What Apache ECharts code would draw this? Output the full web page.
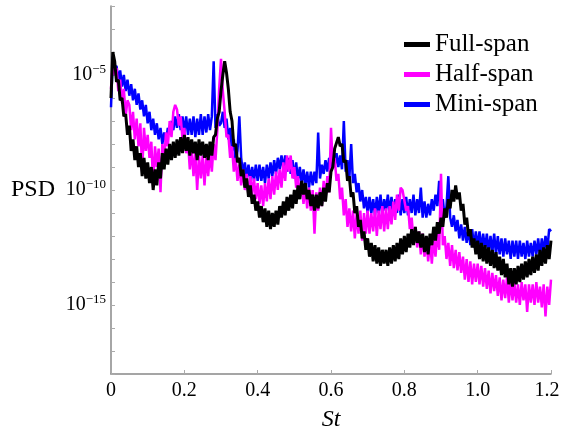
<!DOCTYPE html>
<html>
<head>
<meta charset="utf-8">
<script src="https://cdn.jsdelivr.net/npm/echarts@6/dist/echarts.min.js"></script>
<style>
  html, body { margin: 0; padding: 0; background: #fff; }
  #chart { width: 561px; height: 429px; }
</style>
</head>
<body>
<div id="chart"></div>
<script>
var stStep = 0.005;

var seriesNames = ['Full-span', 'Half-span', 'Mini-span'];
var xTickLabels = ['0', '0.2', '0.4', '0.6', '0.8', '1.0', '1.2'];

var fullSpan = [
    -6.0, -4.0, -4.4, -5.3, -5.2, -6.1, -6.0, -6.8, -6.7, -7.6,
    -7.2, -8.3, -7.8, -8.7, -8.1, -9.0, -8.4, -9.4, -8.6, -9.5,
    -8.8, -9.7, -9.0, -10.0, -9.1, -9.8, -8.8, -9.5, -8.4, -9.1,
    -8.2, -8.9, -8.0, -8.7, -7.9, -8.6, -7.8, -8.5, -7.7, -8.4,
    -7.6, -8.3, -7.7, -8.5, -7.8, -8.4, -7.9, -8.7, -7.8, -8.5,
    -7.9, -8.6, -8.0, -8.7, -7.9, -8.5, -7.7, -7.6, -6.9, -6.6,
    -5.7, -5.0, -4.4, -4.9, -5.6, -6.6, -7.0, -8.1, -8.0, -8.8,
    -8.6, -9.4, -9.1, -9.9, -9.5, -10.3, -9.8, -10.6, -10.2, -10.9,
    -10.5, -11.2, -10.7, -11.4, -10.8, -11.6, -10.9, -11.7, -11.0, -11.6,
    -10.9, -11.5, -10.7, -11.2, -10.5, -11.1, -10.3, -10.9, -10.2, -10.8,
    -10.0, -10.6, -9.8, -10.4, -9.6, -10.2, -9.7, -10.4, -10.0, -10.7,
    -10.2, -10.9, -10.2, -10.8, -10.1, -10.7, -9.9, -10.5, -9.7, -10.1,
    -9.2, -9.0, -8.2, -8.2, -7.7, -8.1, -8.0, -8.8, -8.7, -9.6,
    -9.4, -10.3, -10.1, -11.0, -10.7, -11.6, -11.3, -12.1, -11.8, -12.6,
    -12.1, -12.9, -12.3, -13.1, -12.4, -13.2, -12.5, -13.3, -12.6, -13.2,
    -12.6, -13.3, -12.5, -13.2, -12.4, -13.1, -12.3, -13.0, -12.1, -12.8,
    -12.0, -12.7, -11.9, -12.5, -11.7, -12.4, -11.6, -12.3, -11.8, -12.5,
    -11.9, -12.7, -12.0, -12.8, -11.9, -12.4, -11.6, -12.2, -11.4, -11.9,
    -11.2, -11.6, -10.8, -11.2, -10.4, -10.8, -10.0, -10.5, -9.8, -10.4,
    -10.1, -10.9, -10.6, -11.5, -11.2, -12.0, -11.7, -12.5, -12.1, -12.8,
    -12.2, -13.0, -12.3, -13.1, -12.4, -13.2, -12.5, -13.3, -12.6, -13.4,
    -12.7, -13.5, -12.9, -13.7, -13.0, -13.8, -13.2, -14.1, -13.4, -14.2,
    -13.4, -14.1, -13.3, -14.0, -13.2, -13.9, -13.1, -13.8, -13.0, -13.7,
    -12.9, -13.6, -12.8, -13.5, -12.6, -13.3, -12.5, -13.2, -12.4, -13.0,
    -12.2
];

var halfSpan = [
    -5.6, -4.4, -5.0, -4.7, -5.7, -5.2, -6.2, -5.6, -6.8, -6.1,
    -6.3, -7.4, -6.6, -7.8, -6.9, -8.1, -7.1, -9.2, -7.3, -8.3,
    -7.6, -8.6, -7.9, -9.8, -8.1, -9.0, -8.2, -10.1, -8.0, -8.7,
    -7.5, -8.1, -7.0, -7.7, -6.6, -6.3, -6.5, -7.2, -6.8, -7.8,
    -7.3, -8.4, -7.9, -9.1, -8.2, -9.4, -8.4, -10.0, -8.5, -9.5,
    -8.5, -9.8, -8.5, -9.4, -8.4, -9.2, -8.0, -8.7, -7.4, -5.6,
    -4.3, -5.7, -6.6, -7.7, -7.6, -8.6, -8.1, -9.2, -8.6, -9.6,
    -8.9, -9.8, -9.1, -10.0, -9.3, -10.3, -9.4, -10.2, -9.5, -10.4,
    -9.7, -10.6, -9.8, -10.7, -9.7, -10.5, -9.5, -10.4, -9.4, -10.2,
    -9.2, -10.0, -9.1, -9.9, -8.8, -9.6, -8.5, -9.2, -8.5, -9.5,
    -9.0, -9.9, -9.4, -10.3, -9.7, -10.6, -9.8, -10.8, -9.9, -10.9,
    -10.0, -11.9, -10.1, -10.9, -9.9, -10.7, -9.6, -10.4, -9.4, -10.1,
    -7.3, -9.0, -8.6, -9.6, -9.3, -10.4, -9.9, -11.1, -10.4, -11.6,
    -10.8, -11.8, -10.9, -12.1, -11.0, -11.9, -10.9, -12.2, -11.0, -11.9,
    -10.9, -11.9, -11.0, -11.8, -10.8, -12.0, -10.9, -11.7, -10.7, -11.8,
    -10.8, -11.7, -10.7, -11.5, -10.5, -11.3, -10.2, -10.9, -9.9, -10.0,
    -10.0, -10.9, -10.7, -11.7, -11.2, -12.2, -11.6, -12.5, -11.8, -12.8,
    -11.9, -12.9, -12.1, -13.1, -12.2, -13.2, -12.1, -12.9, -11.8, -12.6,
    -9.3, -12.4, -12.0, -13.0, -12.3, -13.3, -12.4, -13.4, -12.6, -13.5,
    -12.7, -13.6, -12.9, -13.9, -13.0, -14.0, -13.1, -14.1, -13.2, -14.0,
    -13.2, -14.1, -13.3, -14.2, -13.4, -14.3, -13.5, -14.5, -13.6, -14.4,
    -13.7, -14.6, -13.8, -14.8, -13.9, -14.7, -13.8, -14.9, -13.9, -14.8,
    -14.0, -14.9, -14.1, -15.0, -14.0, -14.8, -14.1, -15.3, -14.1, -14.9,
    -14.1, -15.0, -14.0, -14.9, -14.2, -15.1, -14.1, -15.5, -14.2, -15.0,
    -13.9
];

var miniSpan = [
    -6.4, -4.2, -4.7, -4.6, -5.2, -4.8, -5.5, -5.0, -5.7, -5.2,
    -5.9, -5.4, -6.1, -5.6, -6.3, -5.8, -6.5, -6.1, -6.8, -6.3,
    -7.1, -6.6, -7.4, -6.9, -7.6, -7.1, -7.8, -7.3, -8.0, -7.5,
    -7.9, -7.3, -7.6, -7.0, -7.4, -6.8, -7.3, -6.7, -7.4, -6.8,
    -7.5, -6.8, -7.6, -6.9, -7.6, -6.8, -7.7, -6.9, -7.6, -6.7,
    -7.6, -6.8, -7.5, -6.7, -7.4, -6.8, -4.4, -7.3, -6.7, -7.2,
    -7.1, -6.6, -7.3, -6.9, -7.8, -7.3, -8.3, -7.8, -8.8, -8.3,
    -6.8, -8.6, -9.3, -8.8, -9.5, -8.9, -9.6, -9.0, -9.6, -8.9,
    -9.6, -8.9, -9.6, -9.0, -9.7, -8.9, -9.5, -8.8, -9.4, -8.7,
    -9.3, -8.6, -9.1, -8.5, -9.1, -8.5, -9.2, -8.6, -9.3, -8.7,
    -9.5, -8.8, -9.6, -9.0, -9.7, -9.1, -9.8, -9.2, -9.9, -9.2,
    -9.8, -9.2, -9.7, -7.5, -9.5, -8.9, -9.3, -8.7, -9.2, -8.6,
    -9.1, -8.5, -9.0, -8.4, -9.0, -8.5, -9.1, -7.0, -9.2, -8.7,
    -9.5, -8.0, -9.7, -9.3, -10.1, -9.7, -10.5, -10.0, -10.8, -10.3,
    -11.0, -10.3, -11.0, -10.4, -11.1, -10.3, -11.0, -10.2, -11.1, -10.4,
    -10.9, -10.2, -11.0, -10.3, -11.1, -10.4, -11.0, -10.2, -11.1, -10.4,
    -11.0, -10.3, -11.1, -10.4, -11.0, -10.2, -11.1, -10.4, -11.0, -9.9,
    -11.2, -10.5, -11.2, -10.6, -11.1, -10.4, -10.9, -10.2, -10.7, -9.6,
    -10.9, -10.4, -11.2, -10.7, -9.4, -11.2, -11.6, -11.1, -11.8, -11.3,
    -12.1, -11.5, -12.2, -11.6, -12.3, -11.7, -12.4, -11.7, -12.5, -11.8,
    -12.5, -11.8, -12.6, -11.9, -12.6, -11.9, -12.7, -12.0, -12.7, -11.9,
    -12.8, -12.0, -12.8, -12.1, -12.9, -12.1, -12.8, -12.2, -13.0, -12.2,
    -12.9, -12.2, -13.0, -12.2, -12.9, -12.3, -13.0, -12.2, -12.9, -12.3,
    -12.9, -12.2, -12.8, -12.1, -12.9, -12.1, -12.7, -12.0, -12.6, -11.7,
    -11.8
];

// turn log10 values into [St, PSD] pairs
function toPairs(exps) {
    return exps.map(function (e, i) {
        return [+(i * stStep).toFixed(3), Math.pow(10, e)];
    });
}

var chart = echarts.init(document.getElementById('chart'));

var serif = 'Liberation Serif';

var option = {
    animation: false,
    grid: {
        left: 111,
        right: 10,
        top: 6,
        bottom: 55,
        outerBoundsMode: 'none',
        containLabel: false
    },
    legend: {
        orient: 'vertical',
        left: 399,
        top: 27,
        itemWidth: 26,
        itemHeight: 5,
        itemGap: 5,
        icon: 'rect',
        data: seriesNames,
        textStyle: {
            fontFamily: serif,
            fontSize: 25,
            color: '#000'
        }
    },
    xAxis: {
        type: 'value',
        min: 0,
        max: 1.2,
        interval: 0.2,
        name: 'St',
        nameLocation: 'middle',
        nameGap: 34,
        nameTextStyle: {
            fontFamily: serif,
            fontStyle: 'italic',
            fontSize: 24,
            color: '#000'
        },
        axisLine: { lineStyle: { color: '#888', width: 1.5 } },
        axisTick: { inside: true, length: 4, lineStyle: { color: '#aaa' } },
        splitLine: { show: false },
        axisLabel: {
            margin: 7,
            fontFamily: serif,
            fontSize: 20,
            color: '#000',
            formatter: function (v) {
                var k = Math.round(v / 0.2);
                // last label sits at the window edge, nudge it left a little
                if (k === xTickLabels.length - 1) {
                    return '{last|' + xTickLabels[k] + '}';
                }
                return xTickLabels[k];
            },
            rich: {
                last: { fontFamily: serif, fontSize: 20, color: '#000', padding: [0, 8, 0, 0] }
            }
        }
    },
    yAxis: {
        type: 'log',
        logBase: 10,
        min: 1e-18,
        max: 1e-2,
        interval: 1,
        name: 'PSD',
        nameLocation: 'middle',
        nameRotate: 0,
        nameGap: 56,
        nameTextStyle: {
            fontFamily: serif,
            fontSize: 24,
            color: '#000',
            align: 'right'
        },
        axisLine: { show: true, lineStyle: { color: '#888', width: 1.5 } },
        axisTick: { inside: true, length: 4, lineStyle: { color: '#aaa' } },
        splitLine: { show: false },
        axisLabel: {
            margin: 5,
            showMinLabel: true,
            showMaxLabel: true,
            formatter: function (v) {
                var e = Math.round(Math.log(v) / Math.LN10);
                if (e === -5 || e === -10 || e === -15) {
                    return '{b|10}{s|\u2212' + (-e) + '}';
                }
                return '';
            },
            rich: {
                b: { fontFamily: serif, fontSize: 20, color: '#000' },
                s: { fontFamily: serif, fontSize: 13, color: '#000', padding: [0, 0, 10, 0] }
            }
        }
    },
    series: [{
        name: 'Mini-span',
        type: 'line',
        showSymbol: false,
        color: '#0000ff',
        lineStyle: { width: 2.5 },
        data: toPairs(miniSpan)
    }, {
        name: 'Half-span',
        type: 'line',
        showSymbol: false,
        color: '#ff00ff',
        lineStyle: { width: 2.5 },
        data: toPairs(halfSpan)
    }, {
        name: 'Full-span',
        type: 'line',
        showSymbol: false,
        color: '#000000',
        lineStyle: { width: 3 },
        data: toPairs(fullSpan)
    }]
};

chart.setOption(option);
</script>
</body>
</html>
